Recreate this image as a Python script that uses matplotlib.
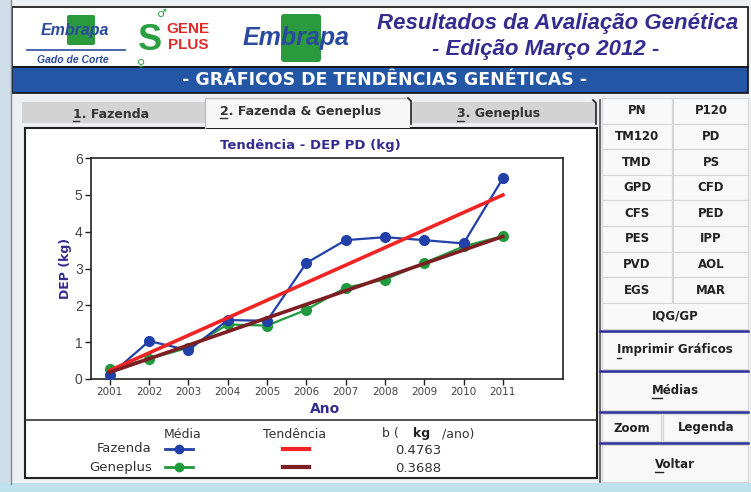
import numpy as np
import matplotlib
matplotlib.use('Agg')
from matplotlib import pyplot as plt
from matplotlib.patches import Rectangle, FancyBboxPatch

anos = [2001, 2002, 2003, 2004, 2005, 2006, 2007, 2008, 2009, 2010, 2011]
dep_fazenda = [0.10, 1.03, 0.78, 1.60, 1.58, 3.15, 3.77, 3.85, 3.77, 3.68, 5.45]
dep_geneplus = [0.27, 0.55, 0.85, 1.48, 1.45, 1.88, 2.48, 2.70, 3.15, 3.60, 3.88]
b_fazenda = 0.4763
b_geneplus = 0.3688
y_ticks = [0, 1, 2, 3, 4, 5, 6]

botoes = [('PN', 'P120'), ('TM120', 'PD'), ('TMD', 'PS'), ('GPD', 'CFD'),
          ('CFS', 'PED'), ('PES', 'IPP'), ('PVD', 'AOL'), ('EGS', 'MAR')]

AZUL = '#2140a8'
VERDE = '#1f9a3c'
VERMELHO = '#f02424'
MARROM = '#7c1e22'
TITULO = '#352c90'
W, H = 751, 492

fig = plt.figure(figsize=(W / 100, H / 100), dpi=100)
fig.patch.set_facecolor('#eeeff1')

# camada de fundo em pixels
bg = fig.add_axes([0, 0, 1, 1])
bg.set_xlim(0, W)
bg.set_ylim(H, 0)
bg.axis('off')

def ret(x0, y0, x1, y1, fc, ec='none', lw=1, z=1):
    bg.add_patch(Rectangle((x0, y0), x1 - x0, y1 - y0, facecolor=fc,
                           edgecolor=ec, linewidth=lw, zorder=z))

def txt(x, y, s, size=9, color='#222222', weight='bold', ha='center',
        style='normal', family='DejaVu Sans', z=5):
    bg.text(x, y, s, fontsize=size, color=color, fontweight=weight, ha=ha,
            va='center', fontstyle=style, family=family, zorder=z)

# bordas da janela
ret(0, 0, 12, H, '#cfdde9')
bg.plot([11, 11], [0, 484], color='#7f8a96', lw=1, zorder=2)
ret(0, 483, W, H, '#bfe1ee')

# cabecalho
ret(12, 7, 748, 67, 'white', '#111111', 1.2)
ret(12, 67, 748, 93, '#2456a6', '#111111', 1.2)
txt(385, 80, '- GRÁFICOS DE TENDÊNCIAS GENÉTICAS -', size=12.5, color='white')
txt(558, 23, 'Resultados da Avaliação Genética', size=16, color=TITULO,
    style='italic', family='Liberation Sans')
txt(546, 50, '- Edição Março 2012 -', size=16, color=TITULO,
    style='italic', family='Liberation Sans')

# logos (aproximados)
bg.add_patch(FancyBboxPatch((69, 17), 24, 26, boxstyle='round,pad=2',
                            fc='#2a9a3c', ec='none', zorder=3))
txt(75, 30, 'Embrapa', size=11.5, color='#2a4a9e', style='italic',
    family='Liberation Sans')
bg.plot([27, 125], [50, 50], color='#2a4a9e', lw=1.2, zorder=3)
txt(73, 60, 'Gado de Corte', size=7.5, color='#2a4a9e', style='italic',
    family='Liberation Sans')
txt(150, 40, 'S', size=26, color='#2aa040', family='Liberation Sans')
txt(161, 14, '♂', size=8, color='#2aa040')
txt(141, 64, '♀', size=8, color='#2aa040')
txt(188, 29, 'GENE', size=11, color='#e02a2a', family='Liberation Sans')
txt(188, 45, 'PLUS', size=11, color='#e02a2a', family='Liberation Sans')
bg.add_patch(FancyBboxPatch((284, 17), 34, 42, boxstyle='round,pad=3',
                            fc='#2a9a3c', ec='none', zorder=3))
txt(296, 38, 'Embrapa', size=18, color='#2a4a9e', style='italic',
    family='Liberation Sans')

# abas
ret(22, 102, 205, 123, '#d3d3d3')
ret(412, 102, 596, 123, '#d3d3d3')
ret(205, 97, 410, 128, '#f7f7f7', z=2)
bg.plot([205, 205, 408], [128, 98, 98], color='#bdbdbd', lw=1, zorder=3)
bg.plot([408, 411, 411], [98, 101, 124], color='#222222', lw=1.2, zorder=3)
bg.plot([593, 596, 596], [100, 103, 124], color='#222222', lw=1.2, zorder=3)
txt(73, 114, '1. Fazenda', size=9, ha='left', color='#333333')
txt(220, 111, '2. Fazenda & Geneplus', size=9, ha='left', color='#333333')
txt(457, 114, '3. Geneplus', size=9, ha='left', color='#333333')
for x0, x1, y in [(73, 79, 121), (220, 227, 118), (457, 464, 121)]:
    bg.plot([x0, x1], [y, y], color='#333333', lw=1, zorder=6)

# painel do grafico
ret(25, 128, 597, 478, 'white', '#222222', 1.5)
bg.plot([25, 597], [420, 420], color='#333333', lw=1.2, zorder=3)

# painel de botoes
bg.plot([600, 600], [100, 482], color='#555555', lw=1.2, zorder=3)
y0 = 98
for esq, dir_ in botoes:
    ret(602, y0, 672, y0 + 25.6, '#f8f8f8', '#d6d6d6', 0.8)
    ret(673, y0, 748, y0 + 25.6, '#f8f8f8', '#d6d6d6', 0.8)
    txt(637, y0 + 12.8, esq, size=8.5)
    txt(711, y0 + 12.8, dir_, size=8.5)
    y0 += 25.6
ret(602, 303, 748, 329, '#f8f8f8', '#d6d6d6', 0.8)
txt(675, 316, 'IQG/GP', size=8.5)
ret(602, 332, 748, 369, '#f8f8f8', '#d6d6d6', 0.8)
txt(675, 350, 'Imprimir Gráficos', size=8.5)
ret(602, 372, 748, 410, '#f8f8f8', '#d6d6d6', 0.8)
txt(675, 390, 'Médias', size=8.5)
ret(602, 414, 661, 441, '#f8f8f8', '#d6d6d6', 0.8)
ret(663, 414, 748, 441, '#f8f8f8', '#d6d6d6', 0.8)
txt(632, 428, 'Zoom', size=8.5)
txt(706, 427, 'Legenda', size=8.5)
ret(602, 445, 748, 482, '#f8f8f8', '#d6d6d6', 0.8)
txt(675, 464, 'Voltar', size=8.5)
for y in [331, 371, 412, 443]:
    bg.plot([600, 748], [y, y], color='#2b2f9a', lw=1.8, zorder=4)
for x0, x1, y in [(617, 621, 358), (652, 662, 398), (655, 663, 472)]:
    bg.plot([x0, x1], [y, y], color='#222222', lw=1, zorder=6)

# legenda
txt(183, 434, 'Média', size=9, weight='normal', color='#333333')
txt(295, 434, 'Tendência', size=9, weight='normal', color='#333333')
txt(382, 434, 'b (', size=9, weight='normal', color='#333333', ha='left')
txt(413, 434, 'kg', size=9, color='#222222', ha='left')
txt(442, 434, '/ano)', size=9, weight='normal', color='#333333', ha='left')
txt(152, 449, 'Fazenda', size=9.5, weight='normal', color='#333333', ha='right')
txt(152, 467, 'Geneplus', size=9.5, weight='normal', color='#333333', ha='right')
bg.plot([165, 193], [449, 449], color=AZUL, lw=2, zorder=6)
bg.plot([179], [449], color=AZUL, marker='o', ms=6, zorder=6)
bg.plot([165, 193], [467, 467], color=VERDE, lw=2, zorder=6)
bg.plot([179], [467], color=VERDE, marker='o', ms=6, zorder=6)
bg.plot([283, 309], [449, 449], color=VERMELHO, lw=3, zorder=6)
bg.plot([283, 309], [467, 467], color=MARROM, lw=3, zorder=6)
txt(395, 451, '%.4f' % b_fazenda, size=9.5, weight='normal', color='#333333',
    ha='left')
txt(395, 469, '%.4f' % b_geneplus, size=9.5, weight='normal', color='#333333',
    ha='left')

# grafico
ax = fig.add_axes([91 / W, 1 - 379 / H, (563 - 91) / W, (379 - 158) / H])
ax.set_facecolor('white')

x = np.array(anos)
for dep, b, cor in [(dep_fazenda, b_fazenda, VERMELHO),
                    (dep_geneplus, b_geneplus, MARROM)]:
    a = np.mean(dep) - b * x.mean()
    ax.plot(x, a + b * x, color=cor, lw=2.6, zorder=4)
ax.plot(anos, dep_geneplus, color=VERDE, lw=1.6, marker='o', ms=7, zorder=3)
ax.plot(anos, dep_fazenda, color=AZUL, lw=1.6, marker='o', ms=7, zorder=3)

ax.set_xlim(2000.52, 2012.53)
ax.set_ylim(0, 6)
ax.set_xticks(anos)
ax.set_xticklabels([str(a) for a in anos], fontsize=7.5, color='#444444')
ax.set_yticks(y_ticks)
ax.set_yticklabels([str(v) for v in y_ticks], fontsize=10, color='#444444',
                   family='Liberation Sans')
ax.tick_params(direction='out', length=4, width=1, color='#222222', pad=2)
for s in ax.spines.values():
    s.set_color('#222222')
    s.set_linewidth(1.2)

txt(310, 146, 'Tendência - DEP PD (kg)', size=9.5, color=TITULO)
txt(325, 409, 'Ano', size=10, color=TITULO)
bg.text(66, 268, 'DEP (kg)', fontsize=9, color=TITULO, fontweight='bold',
        rotation=90, ha='center', va='center', zorder=5)

fig.savefig('out.png', dpi=100, facecolor=fig.get_facecolor())
